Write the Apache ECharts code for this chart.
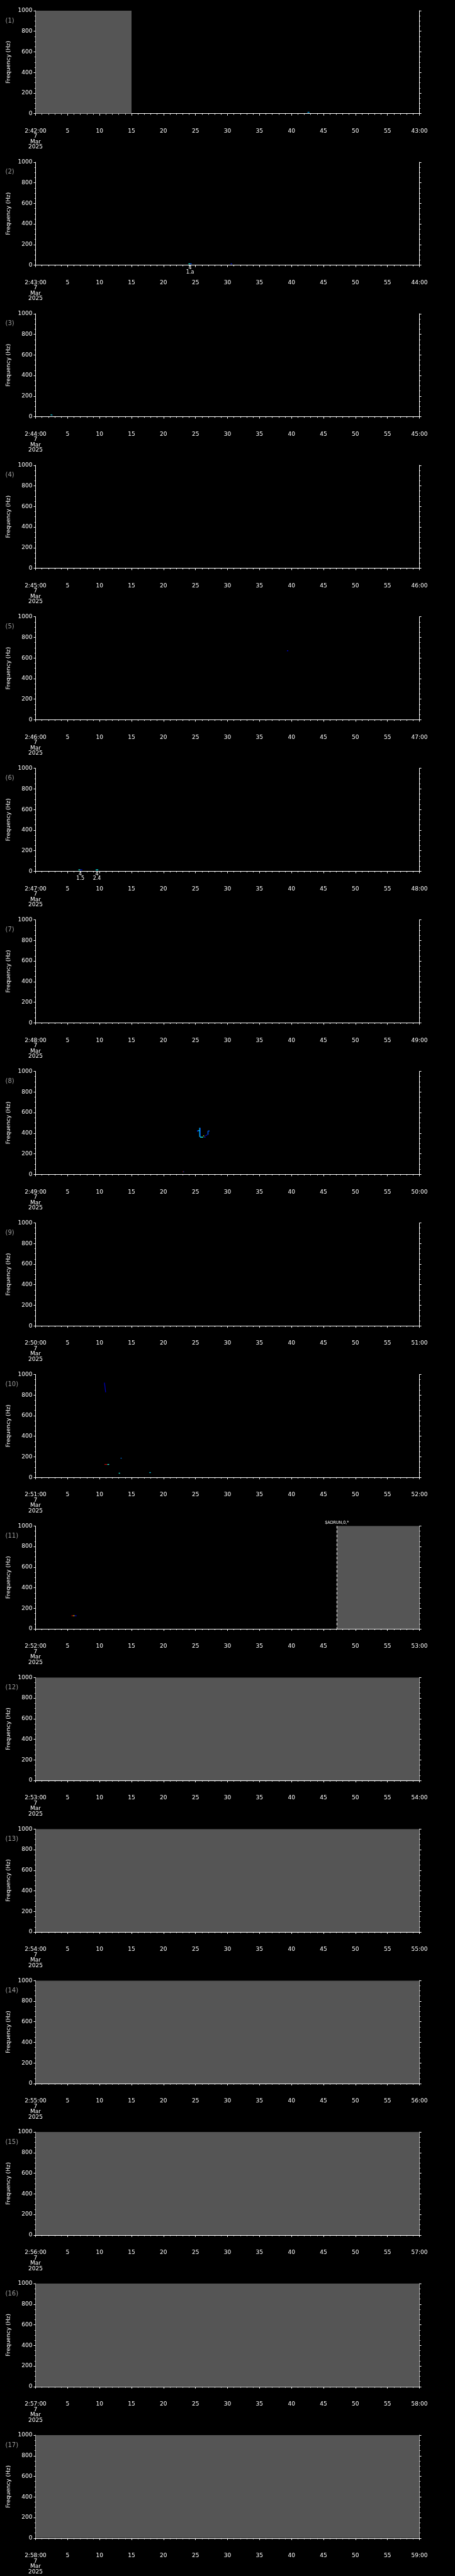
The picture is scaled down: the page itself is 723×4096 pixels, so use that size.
<!DOCTYPE html>
<html style="height: 100%">
<head>
    <meta charset="utf-8">
</head>
<body style="height: 100%; margin: 0; background: #000">
<div id="container" style="width: 723px; height: 4096px"></div>
<script type="text/javascript" src="https://cdn.jsdelivr.net/npm/echarts@6/dist/echarts.min.js"></script>
<script type="text/javascript">
    // one panel per minute, 2:42 .. 2:58 on 7 Mar 2025
    var panelMinutes = [42, 43, 44, 45, 46, 47, 48, 49, 50, 51, 52, 53, 54, 55, 56, 57, 58];
    var freqTicks = [0, 200, 400, 600, 800, 1000];
    var timeTicks = [0, 5, 10, 15, 20, 25, 30, 35, 40, 45, 50, 55, 60];

    // grey (no data) spans: [panel, t0 (s), t1 (s)]
    var noData = [
        [0, 0, 15],
        [10, 47.1, 60],
        [11, 0, 60],
        [12, 0, 60],
        [13, 0, 60],
        [14, 0, 60],
        [15, 0, 60],
        [16, 0, 60]
    ];

    // spectrogram traces: [panel, t0, t1, f0 (Hz), f1 (Hz), intensity 0..1]
    var traces = [
        [0, 42.5, 42.8, 13, 13, 0.3],
        [1, 23.9, 24.15, 13, 13, 0.4],
        [1, 24.15, 24.4, 13, 13, 0.2],
        [1, 30.5, 30.7, 13, 13, 0.15],
        [2, 2.36, 2.5, 18, 18, 0.4],
        [2, 2.5, 2.64, 16, 16, 0.3],
        [4, 39.3, 39.5, 670, 670, 0.08],
        [5, 6.7, 7.0, 14, 14, 0.4],
        [5, 7.0, 7.3, 14, 14, 0.1],
        [5, 9.4, 9.8, 14, 14, 0.38],
        [7, 23.0, 23.1, 26, 26, 0.85],
        [7, 23.1, 23.2, 26, 26, 0.2],
        [7, 25.25, 25.35, 421, 421, 0.15],
        [7, 25.3, 25.3, 414, 428, 0.15],
        [7, 25.4, 25.65, 424, 424, 0.35],
        [7, 25.65, 25.65, 363, 452, 0.35],
        [7, 25.72, 25.72, 363, 452, 0.22],
        [7, 25.72, 26.2, 361, 361, 0.4],
        [7, 26.2, 26.35, 374, 374, 0.6],
        [7, 26.35, 26.55, 362, 362, 0.15],
        [7, 26.55, 26.85, 375, 385, 0.08],
        [7, 26.95, 26.95, 385, 421, 0.22],
        [7, 26.95, 27.2, 421, 421, 0.22],
        [9, 10.77, 10.96, 920, 826, 0.05],
        [9, 10.77, 11.23, 126, 126, 0.95],
        [9, 11.23, 11.5, 126, 126, 0.4],
        [9, 13.3, 13.45, 187, 187, 0.25],
        [9, 13.0, 13.2, 41, 41, 0.4],
        [9, 17.8, 18.0, 47, 47, 0.35],
        [10, 5.62, 5.9, 128, 128, 0.95],
        [10, 5.9, 6.1, 128, 128, 0.65],
        [10, 6.1, 6.4, 128, 128, 0.08]
    ];

    // text notes printed under traces: [panel, t, f, text]
    var notes = [
        [1, 24.15, 13, '4\n1.a'],
        [5, 7.0, 14, '4\n1.5'],
        [5, 9.6, 14, '4\n2.4']
    ];

    // event markers: [panel, t, text]
    var events = [
        [10, 47.1, '$ADRUN,0,*']
    ];

    var dom = document.getElementById("container");
    var myChart = echarts.init(dom);

    var S = 4096 / 5802;
    var panelStep = 5802 / 17 * S;
    var gridTop = 24 * S;
    var gridH = 232 * S;
    var gridSide = 80 * 723 / 1024;
    var FONT = '"DejaVu Sans", sans-serif';

    function jet(v) {
        function c(x) { return Math.round(255 * Math.max(0, Math.min(1, x))); }
        return 'rgb(' + c(1.5 - Math.abs(4 * v - 3)) + ',' + c(1.5 - Math.abs(4 * v - 2)) + ',' + c(1.5 - Math.abs(4 * v - 1)) + ')';
    }

    var grids = [], xAxes = [], yAxes = [], series = [], graphics = [];

    panelMinutes.forEach(function (m, k) {
        grids.push({
            left: gridSide, right: gridSide,
            top: gridTop + k * panelStep, height: gridH
        });
        xAxes.push({
            type: 'value', gridIndex: k, min: 0, max: 60, interval: 5,
            position: 'bottom', offset: 25 * S,
            axisLine: {show: true, lineStyle: {color: '#fff', width: 1}},
            axisTick: {show: true, length: 3, lineStyle: {color: '#fff'}},
            minorTick: {show: true, splitNumber: 5, length: 1.7, lineStyle: {color: '#fff'}},
            splitLine: {show: false},
            axisLabel: {
                color: '#fff', fontFamily: FONT, fontSize: 9, margin: 6, lineHeight: 8.5,
                showMinLabel: true, showMaxLabel: true,
                formatter: function (v) {
                    if (v === 0) return '2:' + m + ':00\n7\nMar\n2025';
                    if (v === 60) return (m + 1) + ':00';
                    return timeTicks.indexOf(v) >= 0 ? String(v) : '';
                }
            }
        });
        yAxes.push({
            type: 'value', gridIndex: k, min: freqTicks[0], max: freqTicks[freqTicks.length - 1],
            interval: freqTicks[1] - freqTicks[0], position: 'left',
            name: 'Frequency (Hz)', nameLocation: 'middle', nameRotate: 90, nameGap: 36,
            nameTextStyle: {color: '#fff', fontFamily: FONT, fontSize: 9},
            axisLine: {show: true, lineStyle: {color: '#fff', width: 1}},
            axisTick: {show: true, length: 3, lineStyle: {color: '#fff'}},
            minorTick: {show: true, splitNumber: 4, length: 1.5, lineStyle: {color: '#fff'}},
            splitLine: {show: false},
            axisLabel: {
                color: '#fff', fontFamily: FONT, fontSize: 9, margin: 5,
                formatter: function (v) { return String(v); }
            }
        });
        yAxes.push({
            type: 'value', gridIndex: k, min: freqTicks[0], max: freqTicks[freqTicks.length - 1],
            interval: freqTicks[1] - freqTicks[0], position: 'right',
            axisLine: {show: true, lineStyle: {color: '#fff', width: 1}},
            axisTick: {show: true, length: 3, lineStyle: {color: '#fff'}},
            minorTick: {show: true, splitNumber: 4, length: 1.5, lineStyle: {color: '#fff'}},
            splitLine: {show: false},
            axisLabel: {show: false}
        });

        var gray = noData.filter(function (d) { return d[0] === k; });
        series.push({
            type: 'custom', xAxisIndex: k, yAxisIndex: 2 * k, clip: true, silent: true, z: 1,
            data: gray.map(function (d) { return [d[1], d[2]]; }),
            renderItem: function (params, api) {
                var p0 = api.coord([api.value(0), 1000]);
                var p1 = api.coord([api.value(1), 0]);
                return {
                    type: 'rect',
                    shape: {x: p0[0], y: p0[1], width: p1[0] - p0[0], height: p1[1] - p0[1]},
                    style: {fill: '#555555'}
                };
            }
        });

        var tr = traces.filter(function (d) { return d[0] === k; });
        series.push({
            type: 'custom', xAxisIndex: k, yAxisIndex: 2 * k, clip: false, silent: true, z: 3,
            data: tr.map(function (d) { return d.slice(1); }),
            renderItem: function (params, api) {
                var p0 = api.coord([api.value(0), api.value(2)]);
                var p1 = api.coord([api.value(1), api.value(3)]);
                return {
                    type: 'line',
                    shape: {x1: p0[0], y1: p0[1], x2: p1[0], y2: p1[1]},
                    style: {stroke: jet(api.value(4)), lineWidth: 1.3}
                };
            }
        });

        var nt = notes.filter(function (d) { return d[0] === k; });
        series.push({
            type: 'custom', xAxisIndex: k, yAxisIndex: 2 * k, clip: false, silent: true, z: 3,
            data: nt.map(function (d) { return [d[1], d[2]]; }),
            renderItem: function (params, api) {
                var p = api.coord([api.value(0), api.value(1)]);
                return {
                    type: 'text', x: p[0], y: p[1] + 3,
                    style: {
                        text: nt[params.dataIndex][3], fill: '#fff', font: '8px ' + FONT,
                        align: 'center', verticalAlign: 'top', lineHeight: 7
                    }
                };
            }
        });

        var ev = events.filter(function (d) { return d[0] === k; });
        series.push({
            type: 'custom', xAxisIndex: k, yAxisIndex: 2 * k, clip: false, silent: true, z: 4,
            data: ev.map(function (d) { return [d[1]]; }),
            renderItem: function (params, api) {
                var top = api.coord([api.value(0), 1000]);
                var bot = api.coord([api.value(0), 0]);
                return {
                    type: 'group',
                    children: [{
                        type: 'line',
                        shape: {x1: top[0], y1: top[1], x2: bot[0], y2: bot[1]},
                        style: {stroke: '#fff', lineWidth: 1, lineDash: [4, 3]}
                    }, {
                        type: 'text', x: top[0], y: top[1] - 2,
                        style: {
                            text: ev[params.dataIndex][2], fill: '#fff',
                            font: '7px "DejaVu Sans Condensed", ' + FONT,
                            align: 'center', verticalAlign: 'bottom'
                        }
                    }]
                };
            }
        });

        graphics.push({
            type: 'text', left: 8.5, top: gridTop + k * panelStep + 11,
            style: {text: '(' + (k + 1) + ')', fill: '#9a9a9a', font: '10px ' + FONT}
        });
    });

    var option = {
        backgroundColor: '#000',
        animation: false,
        grid: grids,
        xAxis: xAxes,
        yAxis: yAxes,
        series: series,
        graphic: graphics
    };
    if (option && typeof option === 'object') {
        myChart.setOption(option);
    }
</script>
</body>
</html>
